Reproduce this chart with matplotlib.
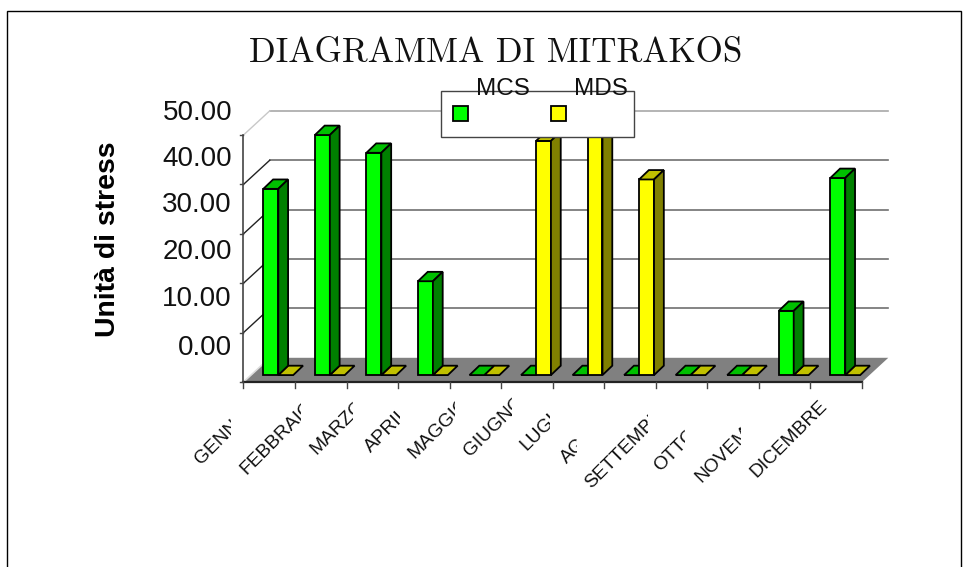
import numpy as np
import matplotlib
matplotlib.use('Agg')
import matplotlib.pyplot as plt
from matplotlib.patches import Polygon, Rectangle
from matplotlib.transforms import Bbox

months = ['GENNAIO', 'FEBBRAIO', 'MARZO', 'APRILE', 'MAGGIO', 'GIUGNO', 'LUGLIO',
          'AGOSTO', 'SETTEMBRE', 'OTTOBRE', 'NOVEMBRE', 'DICEMBRE']
mcs = [37.7, 48.6, 45.0, 19.0, 0, 0, 0, 0, 0, 0, 13.0, 39.9]
mds = [0, 0, 0, 0, 0, 47.4, 49.5, 39.6, 0, 0, 0, 0]
tick_labels = ['0.00', '10.00', '20.00', '30.00', '40.00', '50.00']
tick_values = [0, 10, 20, 30, 40, 50]

W, H = 970, 567
GREEN = ('#00ff00', '#00c000', '#008000')
YELLOW = ('#ffff00', '#c0c000', '#808000')

plt.rcParams['font.family'] = ['Liberation Sans', 'DejaVu Sans']
fig = plt.figure(figsize=(W / 100, H / 100), dpi=100)


def px(x, y):
    return x / W, 1 - y / H


fig.add_artist(Rectangle(px(7, 600), (961 - 7) / W, (600 - 11) / H, transform=fig.transFigure,
                         fc='white', ec='black', lw=1, zorder=-1))

ax = fig.add_axes([243.5 / W, 1 - 382 / H, (862 - 243.5) / W, 247 / H])
ax.set_xlim(0, 12)
ax.set_ylim(0, 50)
ax.axis('off')

# depth of the fake 3d box and of the bars, in data units
wall_dx, wall_dy = 0.51, 4.9
bar_dx, bar_dy = 0.19, 1.9
base = 1.4
bar_w = 0.29
bar_off = 0.385

ax.add_patch(Polygon([(0, 0), (12, 0), (12 + wall_dx, wall_dy), (wall_dx, wall_dy)],
                     fc='#808080', ec='none', clip_on=False, zorder=1))
ax.plot([0, wall_dx], [0, wall_dy], color='#dddddd', lw=1.2, clip_on=False, zorder=2)
ax.plot([0, 12], [0, 0], color='#222222', lw=1.6, clip_on=False, zorder=2)
ax.plot([0, 0], [0, 50], color='#444444', lw=1.2, clip_on=False, zorder=2)

for v in tick_values[1:]:
    c = '#a8a8a8' if v == 50 else '#707070'
    ax.plot([wall_dx, 12 + wall_dx], [v + wall_dy, v + wall_dy], color=c, lw=1.2,
            clip_on=False, zorder=1.5)
    c2 = '#c8c8c8' if v == 50 else '#222222'
    ax.plot([0, wall_dx], [v, v + wall_dy], color=c2, lw=1, clip_on=False, zorder=1.5)

for v in tick_values:
    ax.plot([-0.07, 0], [v, v], color='#444444', lw=1, clip_on=False, zorder=2)
for i in range(13):
    ax.plot([i, i], [0, -1.3], color='#444444', lw=1, clip_on=False, zorder=2)


def draw_bar(x, v, colors, z):
    front, top, side = colors
    kw = dict(ec='black', lw=1.3, clip_on=False, joinstyle='miter', zorder=z)
    ax.bar(x, v, bar_w, bottom=base, align='edge', color=front, edgecolor='black',
           linewidth=1.3, clip_on=False, zorder=z)
    y1 = base + v
    ax.add_patch(Polygon([(x, y1), (x + bar_w, y1), (x + bar_w + bar_dx, y1 + bar_dy),
                          (x + bar_dx, y1 + bar_dy)], fc=top, **kw))
    if v > 0:
        ax.add_patch(Polygon([(x + bar_w, base), (x + bar_w + bar_dx, base + bar_dy),
                              (x + bar_w + bar_dx, y1 + bar_dy), (x + bar_w, y1)], fc=side, **kw))


for i in range(12):
    x0 = i + bar_off
    pair = [(mcs[i], x0, GREEN), (mds[i], x0 + bar_w, YELLOW)]
    # the flat one goes first so the tall one covers it
    pair.sort(key=lambda p: p[0])
    for j, (v, x, cols) in enumerate(pair):
        draw_bar(x, v, cols, 3 + i + j * 0.1)

# labels: start pixel and right clip edge, as the old chart cuts them off
label_start = [(201, 465), (246, 475), (316, 455), (371, 453), (414, 459), (470, 457),
               (526, 451), (567, 464), (591, 489), (660, 472), (701, 483), (756, 478)]
label_clip = [231, 301, 353, 400, 455, 512, 550, 577, 648, 685, 741, 840]
for name, (sx, sy), cx in zip(months, label_start, label_clip):
    t = fig.text(*px(sx, sy), name, rotation=45, rotation_mode='anchor', ha='left', va='baseline',
                 fontsize=13.8, color='#111111')
    t.set_clip_box(Bbox([[0, 0], [cx, H]]))
    t.set_clip_on(True)

# y labels do not line up with the ticks in the original
label_y = [348, 299, 252, 205, 159, 113]
for lab, y in zip(tick_labels, label_y):
    fig.text(*px(232, y), lab, ha='right', va='center', fontsize=20, color='#111111')

fig.text(*px(108, 239.5), 'Unità di stress', rotation=90, ha='center', va='center',
         fontsize=20.4, fontweight='bold', color='black')
fig.text(*px(495.5, 53), 'DIAGRAMMA DI MITRAKOS', ha='center', va='center', fontsize=25.2,
         family=['cmr10', 'Liberation Serif'], color='#111111')

# legend box
fig.add_artist(Rectangle(px(441, 137), 193 / W, 46 / H, transform=fig.transFigure, fc='white',
                         ec='#444444', lw=1, zorder=20))
for x, c, name in [(453, GREEN[0], 'MCS'), (551, YELLOW[0], 'MDS')]:
    fig.add_artist(Rectangle(px(x, 121), 15 / W, 15 / H, transform=fig.transFigure, fc=c,
                             ec='black', lw=1.3, zorder=21))
    fig.text(*px(x + 23, 89), name, ha='left', va='center', fontsize=17.5, color='#111111', zorder=22)

fig.savefig('out.png', dpi=100)
